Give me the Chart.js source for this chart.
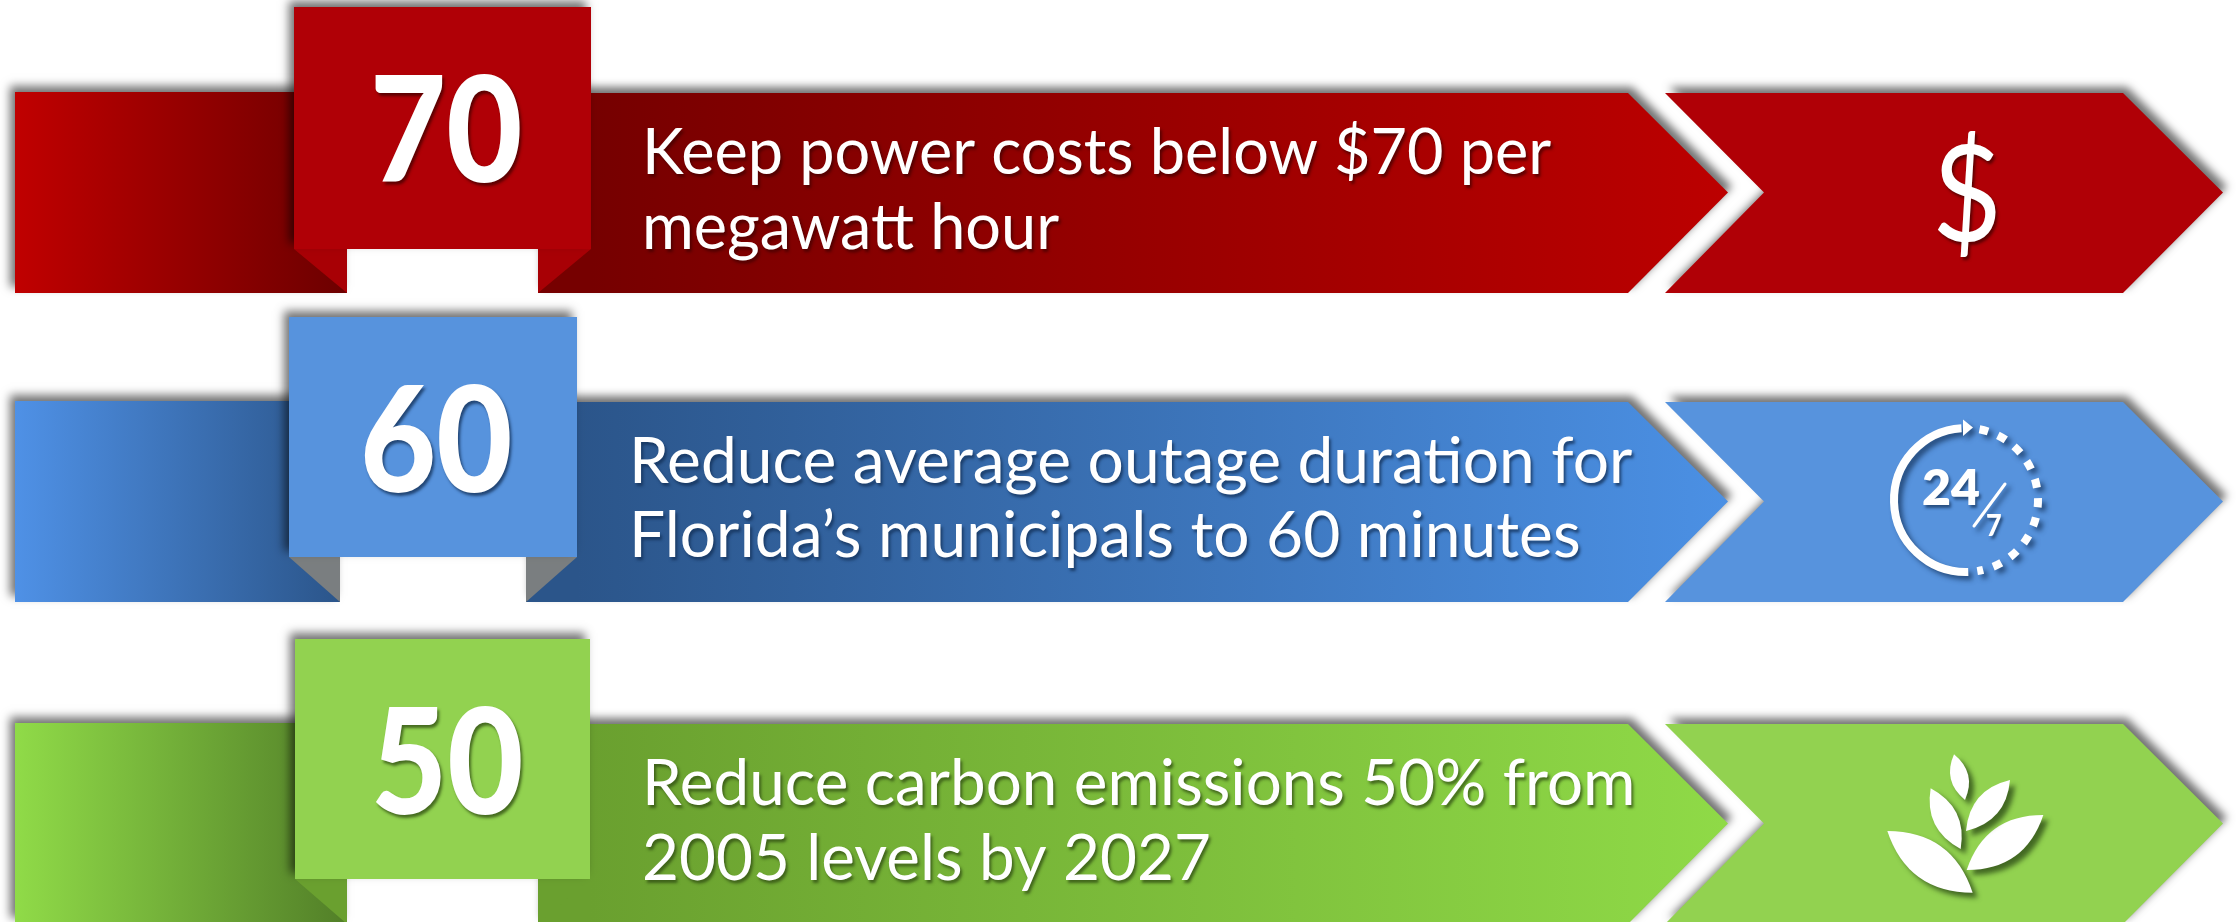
<!DOCTYPE html>
<html>
<head>
<meta charset="utf-8">
<title>Targets</title>
<script src="https://cdn.jsdelivr.net/npm/chart.js@4/dist/chart.umd.min.js"></script>
<style>
  html, body { margin: 0; padding: 0; background: #fff; }
  canvas { display: block; }
</style>
</head>
<body>
<canvas id="chart" width="2236" height="922"></canvas>
<script>
const categories = ["Power costs", "Outage duration", "Carbon emissions"];
const targets = [70, 60, 50];
const descriptionFirst = [
  "Keep power costs below $70 per",
  "Reduce average outage duration for",
  "Reduce carbon emissions 50% from"
];
const descriptionSecond = [
  "megawatt hour",
  "Florida\u2019s municipals to 60 minutes",
  "2005 levels by 2027"
];

/* =====================================
   RIBBONS – row layout in page units
===================================== */
const ribbonPlugin = {
  id: "ribbons",
  afterDatasetsDraw(chart) {
    const { ctx, scales } = chart;
    const X = v => scales.x.getPixelForValue(v);
    const Y = v => scales.py.getPixelForValue(v);

    const rows = [
      { top: 92, bottom: 293, badge: [294, 591, 7, 249], inner: [347, 538], textX: 642, squeeze: 1.0, numX: 370, numBase: 182,
        line1: 174, line2: 249, badgeColor: "#b00006", fold: "#a80005",
        left: ["#c00000", "#6c0000"], right: ["#760000", "#bc0000"], numShadow: "rgba(70,0,0,0.8)" },
      { top: 401, bottom: 602, badge: [289, 577, 317, 557], inner: [340, 526], textX: 629, squeeze: 1.017, numX: 360, numBase: 492,
        line1: 483, line2: 557, badgeColor: "#5793dd", fold: "#7a7e80",
        left: ["#4f91e6", "#2b558a"], right: ["#2b558a", "#4b90e4"], numShadow: "rgba(20,50,90,0.8)" },
      { top: 723, bottom: 924, badge: [295, 590, 639, 879], inner: [347, 538], textX: 642, squeeze: 1.012, numX: 371, numBase: 814,
        line1: 805, line2: 880, badgeColor: "#92d250", fold: "#6aa02f",
        left: ["#90db48", "#527f28"], right: ["#6aa02f", "#8fda47"], numShadow: "rgba(50,80,20,0.8)" }
    ];

    const shadow = (dx, dy, blur, color) => {
      ctx.shadowOffsetX = dx;
      ctx.shadowOffsetY = dy;
      ctx.shadowBlur = blur;
      ctx.shadowColor = color;
    };

    const poly = (pts, fill) => {
      ctx.beginPath();
      pts.forEach((p, i) => i ? ctx.lineTo(X(p[0]), Y(p[1])) : ctx.moveTo(X(p[0]), Y(p[1])));
      ctx.closePath();
      ctx.fillStyle = fill;
      ctx.fill();
    };

    const grad = (x0, x1, c0, c1) => {
      const g = ctx.createLinearGradient(X(x0), 0, X(x1), 0);
      g.addColorStop(0, c0);
      g.addColorStop(1, c1);
      return g;
    };

    const text = (str, x, base, font, squeeze, color, shadowColor) => {
      ctx.save();
      ctx.font = font;
      ctx.textAlign = "left";
      ctx.textBaseline = "alphabetic";
      ctx.fillStyle = color;
      shadow(2, 3, 3, shadowColor);
      ctx.translate(X(x), Y(base));
      ctx.scale(squeeze, 1);
      ctx.fillText(str, 0, 0);
      ctx.restore();
    };

    rows.forEach((r, i) => {
      const mid = (r.top + r.bottom) / 2;
      const [bl, br, bt, bb] = r.badge;
      const [il, ir] = r.inner;

      ctx.save();
      // left tail
      shadow(-5, -6, 9, "rgba(0,0,0,0.55)");
      poly([[15, r.top], [il, r.top], [il, r.bottom], [15, r.bottom]], grad(15, il, r.left[0], r.left[1]));

      // main arrow + icon arrow
      shadow(4, -6, 9, "rgba(0,0,0,0.55)");
      poly([[ir, r.top + 1], [1628, r.top + 1], [1728, mid], [1628, r.bottom], [ir, r.bottom]],
        grad(br, 1728, r.right[0], r.right[1]));
      poly([[1665, r.top + 1], [2123, r.top + 1], [2223, mid], [2123, r.bottom], [1665, r.bottom], [1764, mid]], r.badgeColor);

      // folds under the badge
      shadow(0, 0, 0, "transparent");
      poly([[bl, bb], [il, bb], [il, r.bottom]], r.fold);
      poly([[ir, bb], [br, bb], [ir, r.bottom]], r.fold);

      // badge
      shadow(-5, -6, 9, "rgba(0,0,0,0.55)");
      poly([[bl, bt], [br, bt], [br, bb], [bl, bb]], r.badgeColor);
      ctx.restore();

      text(String(chart.data.datasets[0].data[i]), r.numX, r.numBase, "900 146px Lato", 0.9, "#fff", r.numShadow);
      text(descriptionFirst[i], r.textX, r.line1, "400 63px Lato", r.squeeze, "#fff", r.numShadow);
      text(descriptionSecond[i], r.textX, r.line2, "400 63px Lato", r.squeeze, "#fff", r.numShadow);
    });

    /* ---- icons ---- */
    text("$", 1932, 241, "400 134px Lato", 0.9, "#fff", "rgba(70,0,0,0.8)");

    // 24/7 clock
    const cx = X(1966), cy = Y(500), rad = 72;
    ctx.save();
    shadow(4, 4, 5, "rgba(20,50,90,0.7)");
    ctx.strokeStyle = "#fff";
    ctx.fillStyle = "#fff";
    ctx.lineWidth = 8;
    ctx.beginPath();
    ctx.arc(cx, cy, rad, Math.PI * 0.49, -Math.PI * 0.52);
    ctx.stroke();
    ctx.beginPath();
    ctx.moveTo(cx - 3, cy - rad - 8.5);
    ctx.lineTo(cx + 7, cy - rad - 0.5);
    ctx.lineTo(cx - 3, cy - rad + 8);
    ctx.closePath();
    ctx.fill();
    ctx.setLineDash([9, 10.5]);
    ctx.beginPath();
    ctx.arc(cx, cy, rad, -Math.PI * 0.44, Math.PI * 0.45);
    ctx.stroke();
    ctx.setLineDash([]);
    ctx.lineWidth = 3;
    ctx.lineCap = "round";
    ctx.beginPath();
    ctx.moveTo(X(1974), Y(526));
    ctx.lineTo(X(2005), Y(484));
    ctx.stroke();
    ctx.restore();
    text("24", 1922, 505, "800 50px Lato", 1, "#fff", "rgba(20,50,90,0.7)");
    text("7", 1986, 536, "900 30px Lato", 0.9, "#fff", "rgba(20,50,90,0.7)");

    // leaves
    const leaf = (x0, y0, x1, y1, bulge) => {
      const ax = X(1750 + x0 / 3), ay = Y(710 + y0 / 3), bx = X(1750 + x1 / 3), by = Y(710 + y1 / 3);
      const mx = (ax + bx) / 2, my = (ay + by) / 2, nx = -(by - ay) * bulge, ny = (bx - ax) * bulge;
      ctx.beginPath();
      ctx.moveTo(ax, ay);
      ctx.quadraticCurveTo(mx + nx, my + ny, bx, by);
      ctx.quadraticCurveTo(mx - nx, my - ny, ax, ay);
      ctx.fill();
    };
    ctx.save();
    shadow(5, 5, 5, "rgba(40,70,20,0.75)");
    ctx.fillStyle = "#fff";
    leaf(412, 363, 668, 548, 0.36);
    leaf(880, 315, 650, 480, 0.36);
    leaf(542, 235, 632, 417, 0.36);
    leaf(780, 210, 648, 363, 0.36);
    leaf(612, 133, 645, 270, 0.38);
    ctx.restore();
  }
};

new Chart(document.getElementById("chart"), {
  type: "bar",
  data: {
    labels: categories,
    datasets: [{
      label: "Target",
      data: targets,
      backgroundColor: "transparent",
      borderWidth: 0
    }]
  },
  options: {
    indexAxis: "y",
    responsive: false,
    animation: false,
    layout: { padding: 0 },
    plugins: {
      legend: { display: false },
      tooltip: { enabled: false }
    },
    scales: {
      x: { type: "linear", min: 0, max: 2236, display: false },
      y: { type: "category", display: false },
      py: { axis: "y", type: "linear", min: 0, max: 922, reverse: true, offset: false, display: false }
    }
  },
  plugins: [ribbonPlugin]
});
</script>
</body>
</html>
